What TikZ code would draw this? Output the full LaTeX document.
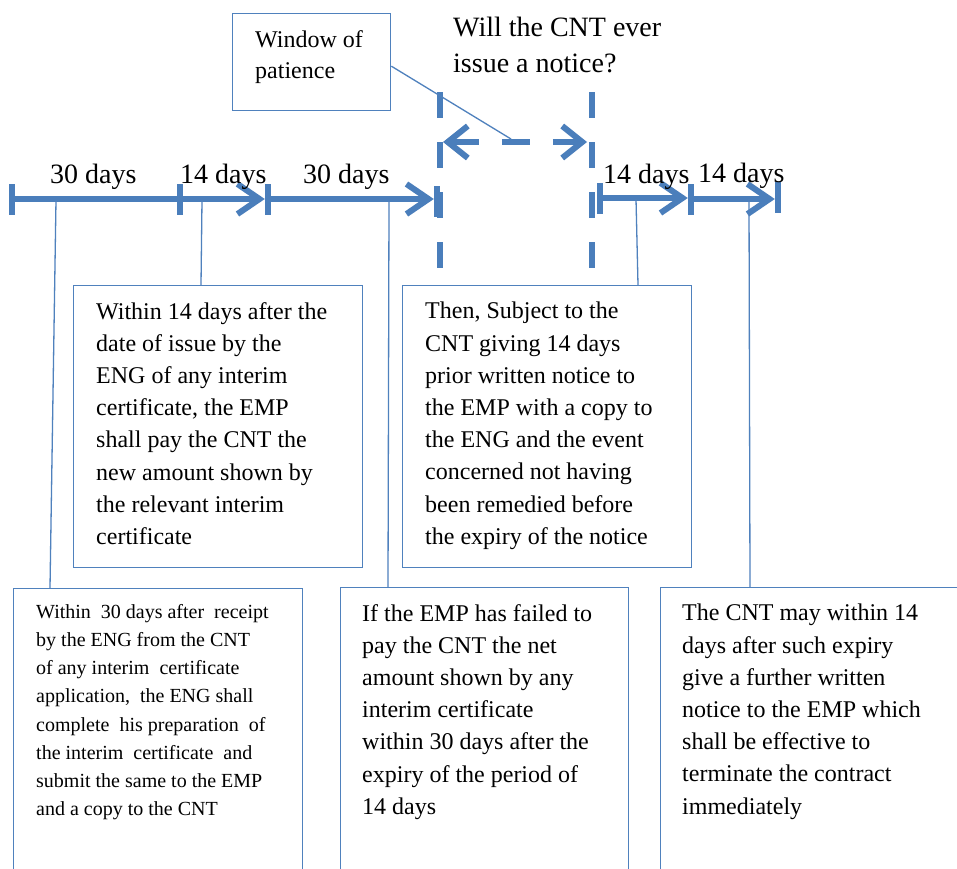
\documentclass[tikz,border=0pt]{standalone}
\usepackage{fontspec}
\setmainfont{Liberation Serif}
\usetikzlibrary{arrows.meta}
\definecolor{ob}{RGB}{79,129,189}
\definecolor{tl}{RGB}{74,126,187}
\begin{document}
\begin{tikzpicture}[x=1pt,y=-1pt,
  boxframe/.style={draw=ob, line width=1.4pt, inner sep=0pt, anchor=north west},
  boxtext/.style={anchor=north west, inner sep=0pt, align=left, font=\fontsize{24}{32.2}\selectfont},
  smalltext/.style={anchor=north west, inner sep=0pt, align=left, font=\fontsize{20}{28.2}\selectfont},
  daylabel/.style={anchor=base west, inner sep=0pt, font=\fontsize{28}{34}\selectfont},
  axis/.style={line width=6pt, draw=tl},
  tickbar/.style={fill=tl, minimum width=6pt, minimum height=31pt, inner sep=0pt},
  arr/.style={axis, -{Straight Barb[length=22pt,width=30pt]}},
  dashv/.style={line width=6pt, draw=tl, dash pattern=on 26pt off 24pt},
  conn/.style={draw=ob, line width=1.3pt}]
\useasboundingbox (0,0) rectangle (957,868);
\fill[white] (0,0) rectangle (957,868);
\clip (0,0) rectangle (957,868);

% boxes
\node[boxframe, minimum width=158pt, minimum height=97pt] (win) at (232,13) {};
\node[boxtext, font=\fontsize{24}{31}\selectfont] (wint) at (255,30.5) {Window of\\patience};
\node[anchor=north west, inner sep=0pt, align=left, font=\fontsize{28}{36.5}\selectfont] (q) at (453,16.5) {Will the CNT ever\\issue a notice?};

\node[boxframe, minimum width=289pt, minimum height=282pt] (b1) at (73,285) {};
\node[boxtext] (b1t) at (96,302) {Within 14 days after the\\date of issue by the\\ENG of any interim\\certificate, the EMP\\shall pay the CNT the\\new amount shown by\\the relevant interim\\certificate};

\node[boxframe, minimum width=289pt, minimum height=282pt] (b2) at (402,285) {};
\node[boxtext] (b2t) at (425,302) {Then, Subject to the\\CNT giving 14 days\\prior written notice to\\the EMP with a copy to\\the ENG and the event\\concerned not having\\been remedied before\\the expiry of the notice};

\node[boxframe, minimum width=289pt, minimum height=320pt] (b3) at (13,588) {};
\node[smalltext] (b3t) at (36,604) {Within\ \ 30 days after\ \ receipt\\by the ENG from the CNT\\of any interim\ \ certificate\\application,\ \ the ENG shall\\complete\ \ his preparation\ \ of\\the interim\ \ certificate\ \ and\\submit the same to the EMP\\and a copy to the CNT};

\node[boxframe, minimum width=288pt, minimum height=320pt] (b4) at (340,587) {};
\node[boxtext] (b4t) at (362,604) {If the EMP has failed to\\pay the CNT the net\\amount shown by any\\interim certificate\\within 30 days after the\\expiry of the period of\\14 days};

\node[boxframe, minimum width=320pt, minimum height=320pt] (b5) at (660,587) {};
\node[boxtext] (b5t) at (682,604) {The CNT may within 14\\days after such expiry\\give a further written\\notice to the EMP which\\shall be effective to\\terminate the contract\\immediately};

% timeline
\node[tickbar] (k0) at (12,199) {};
\node[tickbar] (k1) at (180,199) {};
\node[tickbar] (k2) at (268,199) {};
\node[tickbar] (k3) at (437,201) {};
\node[tickbar] (k4) at (600,198) {};
\node[tickbar] (k5) at (691,199) {};
\node[tickbar] (k6) at (778,197) {};

\draw[axis] (k0.center) -- (k1.center);
\draw[arr] (k1.center) -- (k2.west);
\draw[arr] (k2.center) -- (k3.west |- k2.center);
\draw[arr] (k4.center) -- (k5.west |- k4.center);
\draw[arr] (k5.center) -- (k6.west |- k5.center);

% dashed window
\coordinate (d1a) at (440,92);
\coordinate (d1b) at (440,268);
\coordinate (d2a) at (592,92);
\coordinate (d2b) at (592,268);
\draw[dashv] (d1a) -- (d1b);
\draw[dashv] (d2a) -- (d2b);
\coordinate (ha) at (443,142);
\coordinate (hb) at (587,142);
\draw[line width=6pt, draw=tl, dash pattern=on 28pt off 23pt,
  {Straight Barb[length=20pt,width=32pt]}-{Straight Barb[length=20pt,width=32pt]}] (ha) -- (hb);

% labels
\node[daylabel] (l1) at (50,183) {30 days};
\node[daylabel] (l2) at (180,183) {14 days};
\node[daylabel] (l3) at (303,183) {30 days};
\node[daylabel] (l4) at (603,183) {14 days};
\node[daylabel] (l5) at (698,182) {14 days};

% connectors
\coordinate (wtip) at (511,139);
\draw[conn] ([yshift=-4pt]win.east) -- (wtip);
\coordinate (c1) at (56,200);
\coordinate (c2) at (202,200);
\coordinate (c3) at (389,200);
\coordinate (c4) at (636,199);
\coordinate (c5) at (749,199);
\draw[conn] (c1) -- ([xshift=37pt]b3.north west);
\draw[conn] (c2) -- ([xshift=128pt]b1.north west);
\draw[conn] (c3) -- ([xshift=48pt]b4.north west);
\draw[conn] (c4) -- ([xshift=236pt]b2.north west);
\draw[conn] (c5) -- ([xshift=90pt]b5.north west);
\end{tikzpicture}
\end{document}
